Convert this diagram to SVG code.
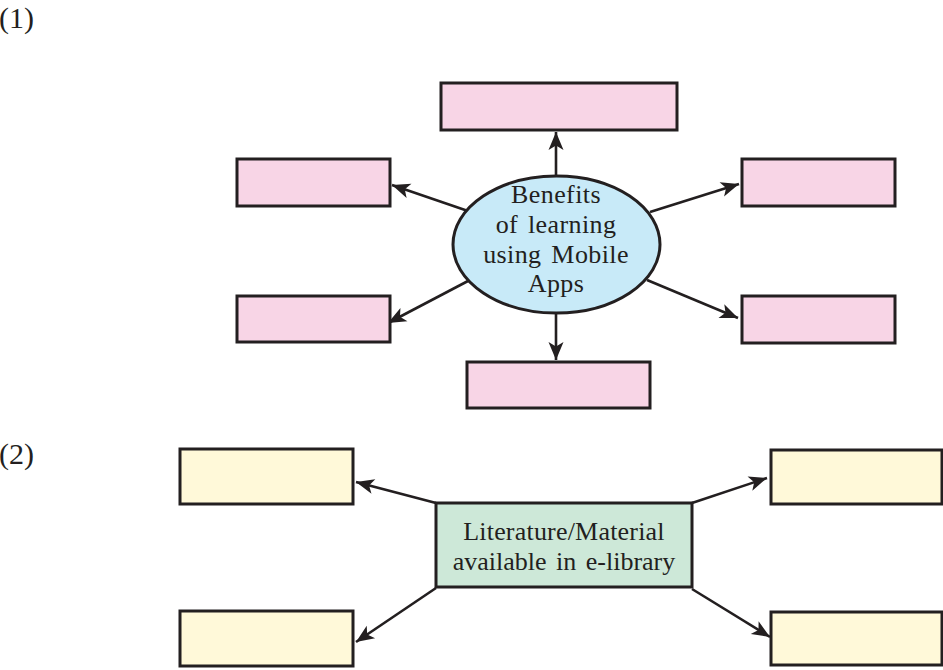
<svg xmlns="http://www.w3.org/2000/svg" width="943" height="670" viewBox="0 0 943 670">
<style>
.box{stroke:#231f20;stroke-width:3}
.pink{fill:#f8d5e6}
.yel{fill:#fff9d9}
.conn line{stroke:#231f20;stroke-width:2.6;marker-end:url(#ah)}
.t{font-family:"Liberation Serif","Times New Roman",serif;fill:#231f20;text-anchor:middle}
.num{font-family:"Liberation Serif","Times New Roman",serif;fill:#231f20;font-size:30px}
</style>
<defs>
<marker id="ah" markerUnits="userSpaceOnUse" markerWidth="22" markerHeight="18" viewBox="-1 -9 20 18" refX="18" refY="0" orient="auto">
<path d="M0,-7.5 L18,0 L0,7.5 L4.5,0 Z" fill="#231f20"/>
</marker>
</defs>
<rect width="943" height="670" fill="#ffffff"/>
<text class="num" x="-1" y="28">(1)</text>
<text class="num" x="-1" y="464">(2)</text>

<g id="connectors" class="conn">
<line x1="556" y1="176" x2="556" y2="132"/>
<line x1="556" y1="313" x2="556" y2="360"/>
<line x1="468" y1="211" x2="392" y2="185"/>
<line x1="468" y1="281" x2="388" y2="323"/>
<line x1="650" y1="212" x2="739" y2="184"/>
<line x1="647" y1="280" x2="738" y2="318"/>
<line x1="436" y1="503" x2="356" y2="482"/>
<line x1="436" y1="588" x2="356" y2="642"/>
<line x1="692" y1="503" x2="767" y2="478"/>
<line x1="692" y1="589" x2="770" y2="637"/>
</g>

<g id="center1">
<ellipse class="box" cx="556.5" cy="244.5" rx="103.5" ry="68.5" fill="#c8eaf8"/>
<text class="t" font-size="26" x="556" y="203" letter-spacing="0.4">Benefits</text>
<text class="t" font-size="26" x="556" y="233" letter-spacing="0.4" word-spacing="3">of learning</text>
<text class="t" font-size="26" x="556" y="263" letter-spacing="0.4" word-spacing="3">using Mobile</text>
<text class="t" font-size="26" x="556" y="292" letter-spacing="0.4">Apps</text>
</g>
<g id="b1-top"><rect class="box pink" x="441" y="83" width="236" height="47"/></g>
<g id="b1-bottom"><rect class="box pink" x="467" y="362" width="183" height="46"/></g>
<g id="b1-left-top"><rect class="box pink" x="237" y="159" width="153" height="47"/></g>
<g id="b1-left-bottom"><rect class="box pink" x="237" y="296" width="153" height="46"/></g>
<g id="b1-right-top"><rect class="box pink" x="742" y="159" width="153" height="47"/></g>
<g id="b1-right-bottom"><rect class="box pink" x="742" y="296" width="153" height="47"/></g>

<g id="center2">
<rect class="box" x="436" y="503" width="256" height="84" fill="#cde8d8"/>
<text class="t" font-size="26" x="564" y="540" letter-spacing="0.2">Literature/Material</text>
<text class="t" font-size="26" x="564" y="570" word-spacing="3">available in e-library</text>
</g>
<g id="b2-left-top"><rect class="box yel" x="180" y="449" width="173" height="55"/></g>
<g id="b2-left-bottom"><rect class="box yel" x="180" y="611" width="173" height="55"/></g>
<g id="b2-right-top"><rect class="box yel" x="771" y="450" width="171" height="54"/></g>
<g id="b2-right-bottom"><rect class="box yel" x="771" y="612" width="171" height="53"/></g>
</svg>
